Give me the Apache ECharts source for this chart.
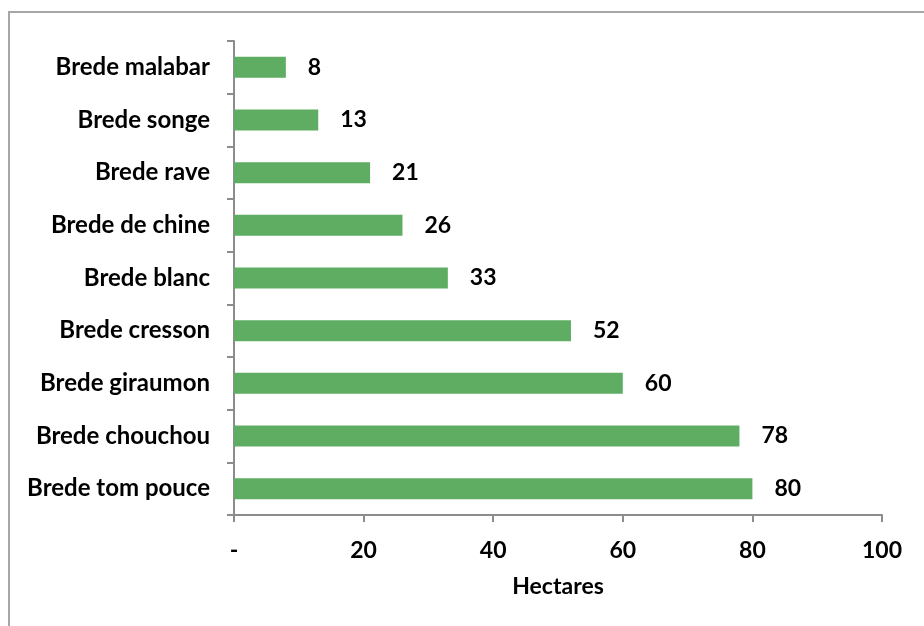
<!DOCTYPE html>
<html>
<head>
<meta charset="utf-8">
<script src="https://cdn.jsdelivr.net/npm/echarts@6/dist/echarts.min.js"></script>
<style>
  html, body { margin: 0; padding: 0; background: #fff; }
  #chart { width: 924px; height: 626px; }
</style>
</head>
<body>
<div id="chart"></div>
<script>
// categories top to bottom
var categories = [
  "Brede malabar",
  "Brede songe",
  "Brede rave",
  "Brede de chine",
  "Brede blanc",
  "Brede cresson",
  "Brede giraumon",
  "Brede chouchou",
  "Brede tom pouce"
];
var hectares = [8, 13, 21, 26, 33, 52, 60, 78, 80];
var xTicks = [0, 20, 40, 60, 80, 100];

var myChart = echarts.init(document.getElementById("chart"));
var axisColor = "#8c8c8c";
var font = "Lato, 'Open Sans', sans-serif";

var option = {
  backgroundColor: "#fff",
  animation: false,
  graphic: [
    {
      type: "rect",
      shape: { x: 9, y: 12, width: 940, height: 650 },
      style: { fill: "none", stroke: "#a6a6a6", lineWidth: 2 },
      silent: true,
    },
  ],
  grid: {
    left: 234,
    right: 42,
    top: 41,
    bottom: 111,
  },
  xAxis: {
    type: "value",
    min: xTicks[0],
    max: xTicks[xTicks.length - 1],
    interval: 20,
    name: "Hectares",
    nameLocation: "middle",
    nameGap: 60,
    nameTextStyle: {
      color: "#000",
      fontFamily: font,
      fontWeight: "bold",
      fontSize: 23,
    },
    axisLine: { show: true, lineStyle: { color: axisColor, width: 2 } },
    axisTick: { show: true, length: 7, lineStyle: { color: axisColor, width: 2 } },
    splitLine: { show: false },
    axisLabel: {
      color: "#000",
      fontFamily: font,
      fontWeight: "bold",
      fontSize: 23,
      margin: 24,
      formatter: function (v) {
        return v === 0 ? "-" : String(v);
      },
    },
  },
  yAxis: {
    type: "category",
    data: categories,
    inverse: true,
    axisLine: { show: true, lineStyle: { color: axisColor, width: 2 } },
    axisTick: { show: true, length: 7, alignWithLabel: false, lineStyle: { color: axisColor, width: 2 } },
    axisLabel: {
      color: "#000",
      fontFamily: font,
      fontWeight: "bold",
      fontSize: 24,
      margin: 24,
    },
  },
  series: [
    {
      name: "Hectares",
      type: "bar",
      data: hectares,
      barCategoryGap: "60%",
      itemStyle: { color: "#5fad63" },
      label: {
        show: true,
        position: "right",
        distance: 22,
        color: "#000",
        fontFamily: font,
        fontWeight: "bold",
        fontSize: 23,
      },
    },
  ],
};
myChart.setOption(option);
</script>
</body>
</html>
